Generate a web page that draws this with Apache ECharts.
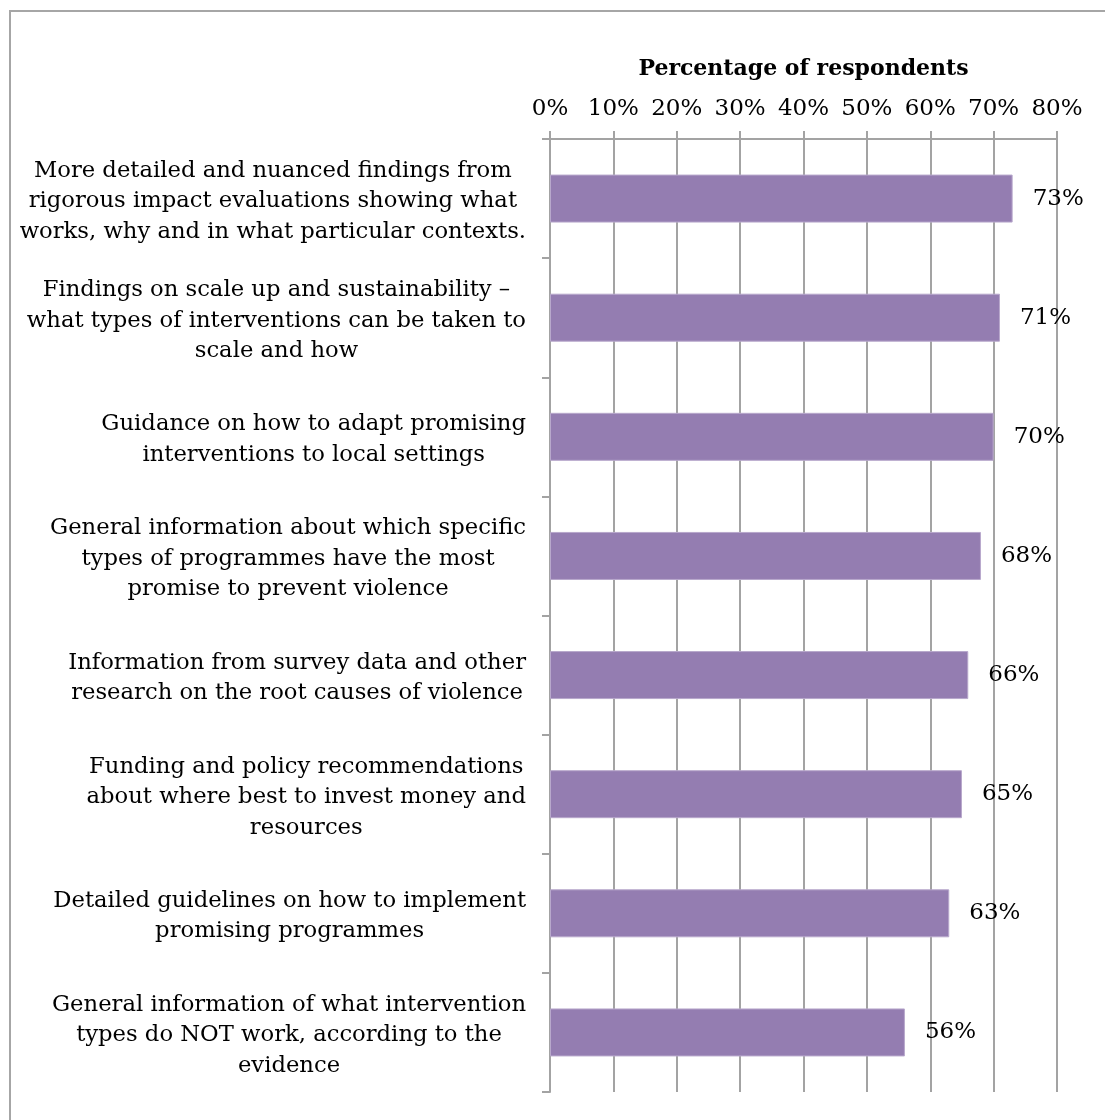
<!DOCTYPE html>
<html>
<head>
<meta charset="utf-8">
<script src="https://cdn.jsdelivr.net/npm/echarts@6/dist/echarts.min.js"></script>
<style>
  html, body { margin: 0; padding: 0; background: #fff; overflow: hidden; }
  #frame { position: absolute; left: 9px; top: 10px; width: 1300px; height: 1300px;
           border: 2px solid #a6a6a6; box-sizing: border-box; }
  #chart { position: absolute; left: 0; top: 0; width: 1105px; height: 1120px; }
</style>
</head>
<body>
<div id="frame"></div>
<div id="chart"></div>
<script>
// Survey items, top to bottom, with the line breaks used in the axis labels
const categories = [
  'More detailed and nuanced findings from\nrigorous impact evaluations showing what\nworks, why and in what particular contexts.',
  'Findings on scale up and sustainability –\nwhat types of interventions can be taken to\nscale and how',
  'Guidance on how to adapt promising\ninterventions to local settings',
  'General information about which specific\ntypes of programmes have the most\npromise to prevent violence',
  'Information from survey data and other\nresearch on the root causes of violence',
  'Funding and policy recommendations\nabout where best to invest money and\nresources',
  'Detailed guidelines on how to implement\npromising programmes',
  'General information of what intervention\ntypes do NOT work, according to the\nevidence'
];

// Share of respondents choosing each item (%)
const percentages = [73, 71, 70, 68, 66, 65, 63, 56];

// Value axis range and step (%)
const axisMin = 0;
const axisMax = 80;
const axisStep = 10;

const FONT = '"DejaVu Serif", "Liberation Serif", serif';
const TEXT_SIZE = 22.7;
const GRID_COLOR = '#a3a3a3';

const chart = echarts.init(document.getElementById('chart'), null, { renderer: 'canvas' });

chart.setOption({
  backgroundColor: 'transparent',
  animation: false,
  grid: { left: 550, right: 48, top: 139, bottom: 28, containLabel: false },
  xAxis: {
    type: 'value',
    position: 'top',
    min: axisMin,
    max: axisMax,
    interval: axisStep,
    name: 'Percentage of respondents',
    nameLocation: 'middle',
    nameGap: 59,
    nameTextStyle: { fontFamily: FONT, fontWeight: 'bold', fontSize: 22, color: '#000' },
    axisLine: { show: true, lineStyle: { color: GRID_COLOR, width: 2 } },
    axisTick: { show: true, inside: false, length: 8, lineStyle: { color: GRID_COLOR, width: 2 } },
    splitLine: { show: true, lineStyle: { color: GRID_COLOR, width: 2 } },
    axisLabel: {
      fontFamily: FONT, fontSize: 23, color: '#000', margin: 18,
      formatter: v => v + '%'
    }
  },
  yAxis: {
    type: 'category',
    inverse: true,
    data: categories,
    axisLine: { show: true, lineStyle: { color: GRID_COLOR, width: 2 } },
    axisTick: { show: true, length: 8, lineStyle: { color: GRID_COLOR, width: 2 } },
    axisLabel: {
      margin: 24,
      align: 'right',
      padding: [6, 0, 0, 0],
      formatter: v => v.split('\n').map(line => '{c|' + line + '}').join('\n'),
      rich: {
        c: { align: 'center', fontFamily: FONT, fontSize: TEXT_SIZE, lineHeight: 30.5, color: '#000' }
      }
    }
  },
  series: [{
    type: 'bar',
    data: percentages,
    barWidth: 48,
    itemStyle: { color: '#947db1', borderColor: '#b8a8cc', borderWidth: 1 },
    label: {
      show: true,
      position: 'right',
      distance: 20,
      fontFamily: FONT,
      fontSize: 23,
      color: '#000',
      formatter: p => p.value + '%'
    }
  }]
});
</script>
</body>
</html>
